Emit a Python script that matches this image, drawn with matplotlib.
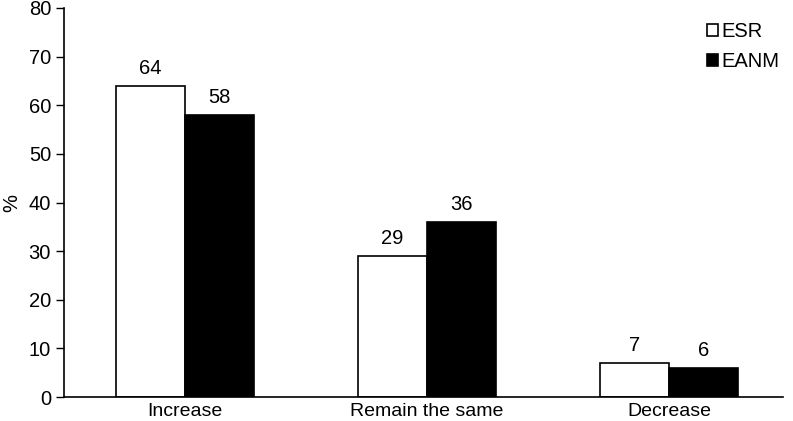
import matplotlib.pyplot as plt
import numpy as np

categories = ['Increase', 'Remain the same', 'Decrease']
esr = [64, 29, 7]
eanm = [58, 36, 6]

plt.rcParams['font.family'] = ['Liberation Sans', 'DejaVu Sans']

fig = plt.figure(figsize=(7.93, 4.21), dpi=100)
ax = fig.add_axes((0.081, 0.057, 0.906, 0.924))

x = np.arange(len(categories))
w = 0.285
b1 = ax.bar(x - w / 2, esr, w, color='white', edgecolor='black', linewidth=1.2, label='ESR')
b2 = ax.bar(x + w / 2, eanm, w, color='black', edgecolor='black', linewidth=1.2, label='EANM')

for bars, vals in ((b1, esr), (b2, eanm)):
    for r, v in zip(bars, vals):
        ax.text(r.get_x() + r.get_width() / 2, v + 1.7, str(v),
                ha='center', va='bottom', fontsize=14.5)

ax.set_xlim(-0.5, 2.47)
ax.set_ylim(0, 80)
ax.set_yticks(range(0, 81, 10))
ax.set_xticks(x)
ax.set_xticklabels(categories)
ax.tick_params(axis='x', length=0, pad=4, labelsize=14)
ax.tick_params(axis='y', direction='out', length=6, width=1, labelsize=14.5)
ax.spines[['top', 'right']].set_visible(False)
ax.spines[['left', 'bottom']].set_linewidth(1.2)
ax.set_ylabel('%', fontsize=14.5, labelpad=5)

ax.legend(loc='upper right', frameon=False, fontsize=14.5, handlelength=0.55,
          handleheight=0.5, handletextpad=0.15, labelspacing=0.55,
          borderaxespad=0.3, bbox_to_anchor=(1.015, 1.0))

fig.savefig('out.png', dpi=100)
